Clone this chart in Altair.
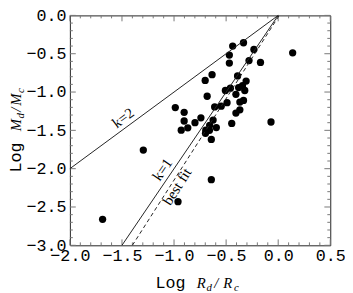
import altair as alt
import pandas as pd

# data points: Log Rd/Rc and Log Md/Mc
rd = [-0.333, -0.437, -0.233, 0.139, -0.469, -0.280, -0.469, -0.170, -0.635, -0.701,
      -0.390, -0.308, -0.343, -0.380, -0.459, -0.507, -0.321, -0.406, -0.682, -0.333,
      -0.368, -0.491, -0.547, -0.610, -0.988, -0.368, -0.903, -0.406, -0.742, -0.903,
      -0.625, -0.799, -0.446, -0.069, -0.658, -0.868, -0.594, -0.931, -0.695, -0.660,
      -0.698, -0.642, -0.642, -0.962, -1.686, -1.295]
md = [-0.357, -0.400, -0.445, -0.488, -0.517, -0.589, -0.622, -0.614, -0.773, -0.849,
      -0.790, -0.857, -0.917, -0.942, -0.950, -0.980, -0.980, -1.030, -1.055, -1.110,
      -1.131, -1.139, -1.185, -1.194, -1.202, -1.232, -1.265, -1.274, -1.337, -1.378,
      -1.366, -1.400, -1.409, -1.391, -1.434, -1.467, -1.463, -1.497, -1.497, -1.500,
      -1.538, -1.618, -2.144, -2.430, -2.661, -1.757]

# reference lines (end points)
k2_x = [-2.0, 0.0]
k2_y = [-2.0, 0.0]
k1_x = [-1.5, 0.0]
k1_y = [-3.0, 0.0]
fit_x = [-1.40, 0.01]
fit_y = [-3.0, 0.0]

# annotations
ann_text = ["k=2", "k=1", "best fit"]
ann_x = [-1.49, -1.113, -0.972]
ann_y = [-1.337, -2.009, -2.232]
ann_angle = [323.5, 304.3, 302.7]

# axis ticks
x_major = [-2.0, -1.5, -1.0, -0.5, 0.0, 0.5]
x_minor = [-1.9, -1.8, -1.7, -1.6, -1.4, -1.3, -1.2, -1.1, -0.9, -0.8, -0.7, -0.6,
           -0.4, -0.3, -0.2, -0.1, 0.1, 0.2, 0.3, 0.4]
y_major = [-3.0, -2.5, -2.0, -1.5, -1.0, -0.5, 0.0]
y_minor = [-2.9, -2.8, -2.7, -2.6, -2.4, -2.3, -2.2, -2.1, -1.9, -1.8, -1.7, -1.6,
           -1.4, -1.3, -1.2, -1.1, -0.9, -0.8, -0.7, -0.6, -0.4, -0.3, -0.2, -0.1]

W, H = 265, 234
MONO = "Liberation Mono"
SERIF = "Liberation Serif"
TICK_COL = "#777777"
LINE_COL = "#222222"

xs = alt.Scale(domain=[-2.0, 0.5], nice=False, zero=False)
ys = alt.Scale(domain=[-3.0, 0.0], nice=False, zero=False)

x_axis = alt.Axis(values=x_major, format=".1f", labelFont=MONO, labelFontSize=17,
                  labelColor="black", ticks=False, tickSize=0, domain=False, grid=False,
                  labelPadding=2, labelFlush=False, labelOverlap=False, labelBound=False,
                  title=None)
y_axis = alt.Axis(values=y_major, format=".1f", labelFont=MONO, labelFontSize=17,
                  labelColor="black", ticks=False, tickSize=0, domain=False, grid=False,
                  labelPadding=4, labelFlush=False, labelOverlap=False, labelBound=False,
                  title=None)


def X(field):
    return alt.X(field, scale=xs, axis=x_axis)


def Y(field):
    return alt.Y(field, scale=ys, axis=y_axis)


pts = pd.DataFrame({"x": rd, "y": md})
points = alt.Chart(pts).mark_circle(size=55, color="black", opacity=1).encode(
    x=X("x:Q"), y=Y("y:Q"))

solid_df = pd.DataFrame({
    "x": k2_x + k1_x,
    "y": k2_y + k1_y,
    "s": ["k2"] * len(k2_x) + ["k1"] * len(k1_x),
})
solid = alt.Chart(solid_df).mark_line(color=LINE_COL, strokeWidth=1).encode(
    x=X("x:Q"), y=Y("y:Q"), detail="s:N")
fit_df = pd.DataFrame({"x": fit_x, "y": fit_y})
fit = alt.Chart(fit_df).mark_line(color=LINE_COL, strokeWidth=1, strokeDash=[4, 3]).encode(
    x=X("x:Q"), y=Y("y:Q"))

ann_df = pd.DataFrame({"t": ann_text, "x": ann_x, "y": ann_y})
ann_layers = []
for i in range(len(ann_text)):
    ann_layers.append(
        alt.Chart(ann_df.iloc[[i]]).mark_text(
            font=SERIF, fontSize=15, color="black", angle=ann_angle[i],
            align="center", baseline="middle",
        ).encode(x=X("x:Q"), y=Y("y:Q"), text="t:N")
    )


def tick_layer(vals, axis, length, side):
    df = pd.DataFrame({"v": vals})
    if axis == "x":
        if side == "bottom":
            yy, yy2 = H, H - length
        else:
            yy, yy2 = 0, length
        return alt.Chart(df).mark_rule(color=TICK_COL, strokeWidth=1).encode(
            x=X("v:Q"), y=alt.value(yy), y2=alt.value(yy2))
    else:
        if side == "left":
            xx, xx2 = 0, length
        else:
            xx, xx2 = W, W - length
        return alt.Chart(df).mark_rule(color=TICK_COL, strokeWidth=1).encode(
            y=Y("v:Q"), x=alt.value(xx), x2=alt.value(xx2))


ticks = [
    tick_layer(x_major, "x", 6, "bottom"), tick_layer(x_minor, "x", 3, "bottom"),
    tick_layer(x_major, "x", 6, "top"), tick_layer(x_minor, "x", 3, "top"),
    tick_layer(y_major, "y", 6, "left"), tick_layer(y_minor, "y", 3, "left"),
    tick_layer(y_major, "y", 6, "right"), tick_layer(y_minor, "y", 3, "right"),
]

dummy = pd.DataFrame({"a": [0]})


def piece(txt, x, y, font, size, style="normal", angle=0):
    return alt.Chart(dummy).mark_text(
        text=txt, font=font, fontSize=size, fontStyle=style, angle=angle,
        align="left", baseline="alphabetic", color="black",
    ).encode(x=alt.value(x), y=alt.value(y))


# x axis title: Log R_d / R_c
XB = 277
xt = [
    piece("Log", 87, XB, MONO, 17),
    piece("R", 129, XB, SERIF, 15, "italic"),
    piece("d", 139, XB + 3, SERIF, 11, "italic"),
    piece("/", 147, XB, SERIF, 15, "italic"),
    piece("R", 156, XB, SERIF, 15, "italic"),
    piece("c", 167, XB + 3, SERIF, 11, "italic"),
]
# y axis title: Log M_d / M_c (rotated)
YB = -50
yt = [
    piece("Log", YB, 160, MONO, 17, angle=270),
    piece("M", YB, 118, SERIF, 15, "italic", 270),
    piece("d", YB + 3, 105, SERIF, 11, "italic", 270),
    piece("/", YB, 98, SERIF, 15, "italic", 270),
    piece("M", YB, 92, SERIF, 15, "italic", 270),
    piece("c", YB + 3, 79, SERIF, 11, "italic", 270),
]

chart = alt.layer(points, *ticks, solid, fit, *ann_layers, *xt, *yt).properties(
    width=W, height=H,
    autosize=alt.AutoSizeParams(type="none"),
    padding={"left": 63, "top": 5, "right": 15, "bottom": 46},
).configure_view(stroke=LINE_COL, strokeWidth=1)

chart.save("out.html", embed_options={"renderer": "svg", "actions": False})
